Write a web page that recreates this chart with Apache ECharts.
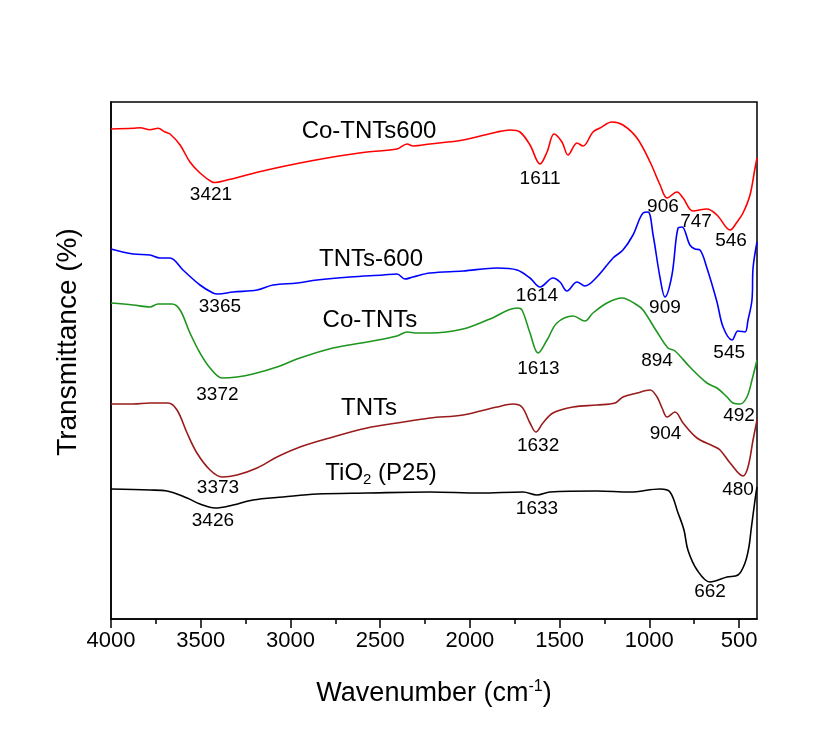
<!DOCTYPE html>
<html><head><meta charset="utf-8">
<script src="https://cdn.jsdelivr.net/npm/echarts@6/dist/echarts.min.js"></script>
<style>html,body{margin:0;padding:0;background:#fff}#c{width:839px;height:754px}</style>
</head><body><div id="c"></div><script>
// Wavenumber (cm-1) vs offset transmittance (a.u.)
const coTnts600 = [[4000,49.0],[3877,49.07],[3838,49.13],[3783,48.93],[3738,49.07],[3699,48.7],[3671,48.5],[3615,47.4],[3560,45.7],[3504,44.6],[3437,43.7],[3420,43.65],[3354,43.9],[3264,44.3],[3131,44.9],[2947,45.6],[2763,46.2],[2573,46.7],[2406,47.0],[2350,47.5],[2317,47.3],[2222,47.5],[2038,47.9],[1849,48.7],[1776,48.9],[1721,48.7],[1665,47.4],[1609,45.5],[1570,46.7],[1531,48.5],[1487,47.7],[1453,46.4],[1403,47.6],[1370,47.3],[1314,48.7],[1275,49.1],[1208,49.7],[1147,49.4],[1069,48.1],[996,45.7],[940,43.4],[901,42.1],[846,42.7],[812,42.1],[757,40.8],[679,41.0],[623,40.4],[550,38.9],[511,39.7],[478,40.6],[439,42.4],[411,45.1],[400,46.1]];
const tnts600 = [[4000,37.0],[3877,36.5],[3783,36.4],[3727,36.1],[3671,36.1],[3599,34.9],[3504,33.4],[3432,32.6],[3404,32.5],[3320,32.7],[3186,32.9],[3097,33.4],[2963,33.6],[2852,33.9],[2668,34.2],[2484,34.4],[2406,34.5],[2362,34.0],[2317,34.2],[2222,34.6],[2038,34.8],[1849,35.1],[1737,34.9],[1665,34.1],[1609,33.2],[1537,34.1],[1498,33.7],[1459,32.8],[1403,33.7],[1359,33.3],[1292,34.2],[1202,36.1],[1147,36.9],[1091,38.4],[1035,40.6],[1007,40.7],[979,38.4],[940,34.1],[913,32.2],[874,34.4],[840,39.1],[818,39.2],[774,37.4],[746,37.0],[718,36.9],[679,35.1],[623,31.7],[589,29.2],[539,27.9],[506,28.8],[467,28.7],[450,29.9],[428,31.9],[422,35.1],[400,37.7]];
const coTnts = [[4000,31.6],[3877,31.4],[3783,31.2],[3738,31.5],[3660,31.5],[3615,30.9],[3560,28.6],[3504,26.6],[3448,25.1],[3381,24.1],[3298,24.2],[3209,24.5],[3075,25.2],[2947,26.1],[2763,27.1],[2573,27.7],[2406,28.3],[2350,28.7],[2295,28.6],[2222,28.6],[2038,29.0],[1888,30.0],[1737,31.1],[1710,30.9],[1665,28.6],[1620,26.6],[1570,27.9],[1515,29.6],[1425,30.3],[1359,29.8],[1314,30.6],[1236,31.6],[1152,32.1],[1069,31.4],[1035,30.9],[957,28.7],[896,27.1],[857,26.8],[774,25.2],[679,23.6],[623,23.1],[567,22.2],[534,21.6],[495,21.5],[456,22.2],[428,23.9],[400,25.9]];
const tnts = [[4000,21.5],[3877,21.5],[3783,21.6],[3682,21.6],[3632,20.9],[3576,18.6],[3521,16.6],[3448,14.9],[3381,14.2],[3298,14.4],[3186,15.1],[3075,16.2],[2947,17.2],[2763,18.2],[2573,19.1],[2406,19.6],[2222,20.1],[2038,20.4],[1849,21.2],[1760,21.5],[1710,21.2],[1665,19.6],[1632,18.7],[1593,19.6],[1537,20.6],[1425,21.2],[1292,21.4],[1191,21.6],[1147,22.2],[1069,22.6],[996,22.9],[957,22.2],[929,21.1],[901,20.2],[857,20.7],[812,19.6],[734,18.1],[645,17.3],[606,16.9],[550,15.6],[478,14.3],[450,15.2],[422,17.9],[400,19.9]];
const tio2 = [[4000,13.0],[3783,12.9],[3688,12.8],[3576,12.1],[3504,11.5],[3420,11.1],[3320,11.4],[3209,11.9],[3041,12.2],[2852,12.5],[2573,12.6],[2222,12.7],[1944,12.6],[1704,12.7],[1626,12.4],[1554,12.7],[1292,12.8],[1108,12.7],[940,13.0],[885,12.7],[840,10.6],[807,8.9],[785,6.9],[734,4.9],[662,3.7],[567,4.2],[506,4.4],[467,5.6],[445,7.2],[433,8.9],[411,11.9],[400,13.2]];

const seriesNames = ['Co-TNTs600','TNTs-600','Co-TNTs','TNTs','TiO2 (P25)'];
const majorTicks = [4000,3500,3000,2500,2000,1500,1000,500];
const minorTicks = [3750,3250,2750,2250,1750,1250,750];
const tickLabels = ['4000','3500','3000','2500','2000','1500','1000','500'];

// annotation positions [wavenumber, value, text]
const nameLabels = [[2562,48.75,'Co-TNTs600'],[2551,36.0,'TNTs-600'],[2557,29.9,'Co-TNTs'],[2562,21.05,'TNTs'],[2495,14.6,'{a|TiO}{b|2}{a| (P25)}']];
const peakLabels = [[3443,42.4,'3421'],[1609,44.05,'1611'],[924,41.2,'906'],[740,39.75,'747'],[545,37.85,'546'],
  [3393,31.2,'3365'],[1626,32.35,'1614'],[913,31.1,'909'],[555,26.65,'545'],
  [1618,25.0,'1613'],[957,25.8,'894'],[3407,22.45,'3372'],[500,20.35,'492'],
  [1620,17.35,'1632'],[910,18.5,'904'],[3404,13.15,'3373'],[506,12.9,'480'],
  [1626,11.0,'1633'],[3432,9.85,'3426'],[662,2.7,'662']];

const FONT = '"Liberation Sans", Arial, sans-serif';
const colors = ['#ff0000','#0000ff','#1e951e','#991b1b','#000000'];
const dataSets = [coTnts600, tnts600, coTnts, tnts, tio2];

const lineSeries = dataSets.map((d, i) => ({
  name: seriesNames[i], type: 'line', data: d, smooth: 0.35, symbol: 'none',
  lineStyle: {color: colors[i], width: 1.6}, itemStyle: {color: colors[i]}, silent: true, z: 3
}));

function textSeries(list, size) {
  return {
    type: 'custom', silent: true, z: 5,
    data: list.map(l => [l[0], l[1], l[2]]),
    encode: {x: 0, y: 1},
    renderItem: function (params, api) {
      const p = api.coord([api.value(0), api.value(1)]);
      const txt = list[params.dataIndex][2];
      return {
        type: 'text', x: p[0], y: p[1],
        style: {
          text: txt, fill: '#000', fontSize: size, fontFamily: FONT,
          align: 'center', verticalAlign: 'middle',
          rich: {a: {fontSize: size, fontFamily: FONT, fill: '#000'}, b: {fontSize: 15, fontFamily: FONT, fill: '#000', padding: [14,0,0,0]}}
        }
      };
    }
  };
}

const chart = echarts.init(document.getElementById('c'));
chart.setOption({
  backgroundColor: '#ffffff',
  animation: false,
  grid: {left: 111, right: 82, top: 102, bottom: 135, show: true, borderColor: '#000', borderWidth: 1.5, backgroundColor: 'transparent'},
  xAxis: [{
    type: 'value', min: 400, max: 4000, inverse: true,
    axisLine: {show: true, lineStyle: {color: '#000', width: 1.5}},
    axisTick: {show: true, length: 9, inside: false, customValues: majorTicks, lineStyle: {color: '#000', width: 1.5}},
    axisLabel: {show: true, customValues: majorTicks, margin: 11, color: '#000', fontSize: 22, fontFamily: FONT,
      formatter: v => tickLabels[majorTicks.indexOf(v)]},
    splitLine: {show: false},
    name: '{a|Wavenumber (cm}{s|-1}{a|)}', nameLocation: 'middle', nameGap: 60,
    nameTextStyle: {rich: {a: {fontSize: 27, fontFamily: FONT, color: '#000'}, s: {fontSize: 16, fontFamily: FONT, color: '#000', padding: [0,0,14,0]}}}
  },{
    type: 'value', min: 400, max: 4000, inverse: true, position: 'bottom',
    axisLine: {show: false},
    axisTick: {show: true, length: 5, inside: false, customValues: minorTicks, lineStyle: {color: '#000', width: 1.5}},
    axisLabel: {show: false}, splitLine: {show: false}
  }],
  yAxis: {type: 'value', min: 0, max: 51.7,
    axisLine: {show: true, lineStyle: {color: '#000', width: 1.5}},
    axisTick: {show: false}, axisLabel: {show: false}, splitLine: {show: false}},
  graphic: [{type: 'text', x: 68, y: 342, rotation: Math.PI / 2,
    style: {text: 'Transmittance (%)', fill: '#000', font: '28px "Liberation Sans", Arial, sans-serif', textAlign: 'center', textVerticalAlign: 'middle'}}],
  series: lineSeries.concat([textSeries(nameLabels, 24), textSeries(peakLabels, 19)])
});
</script></body></html>
